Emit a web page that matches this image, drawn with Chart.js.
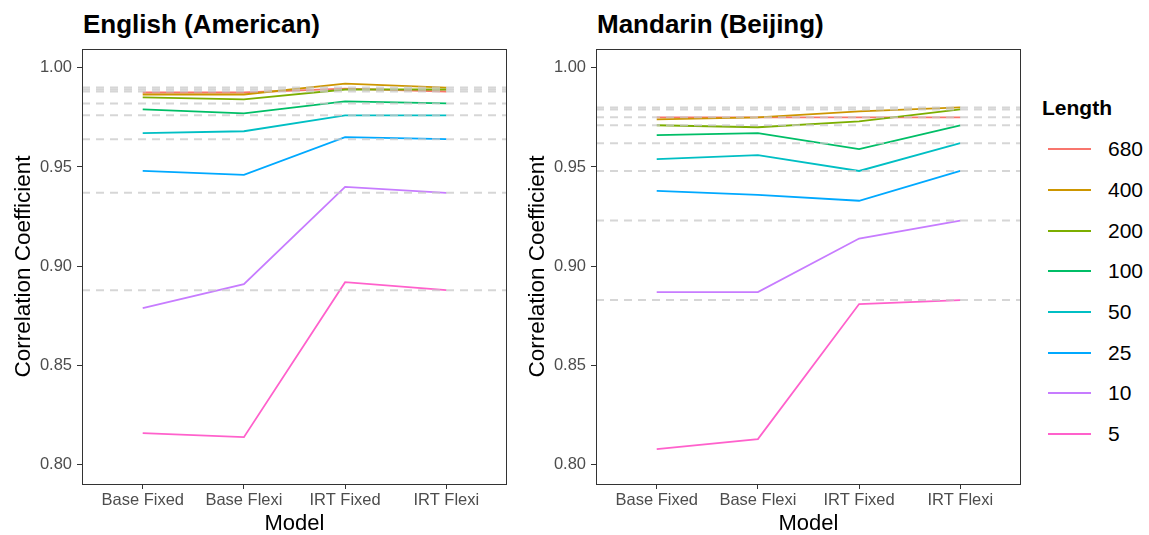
<!DOCTYPE html>
<html>
<head>
<meta charset="utf-8">
<script src="https://cdn.jsdelivr.net/npm/chart.js@4.4.1/dist/chart.umd.min.js"></script>
<style>
    body { margin: 0; width: 1149px; height: 535px; overflow: hidden; position: relative; background: #fff;
           font-family: "Liberation Sans", Arial, sans-serif; }
    canvas { position: absolute; top: 0; }
    .panelTitle { position: absolute; top: 9px; font-size: 26px; font-weight: bold; color: #000; white-space: nowrap; }
    #legend { position: absolute; left: 1042px; top: 96px; color: #000; }
    #legend .head { font-size: 21px; font-weight: bold; margin-bottom: 9px; }
    #legend .item { height: 40.7px; display: flex; align-items: center; font-size: 21px; }
    #legend .key { width: 43px; height: 2px; margin-left: 6px; margin-right: 17px; }
</style>
</head>
<body>
<div class="panelTitle" style="left:83px">English (American)</div>
<div class="panelTitle" style="left:597px">Mandarin (Beijing)</div>
<canvas id="chartEn" width="510" height="535" style="left:0px"></canvas>
<canvas id="chartZh" width="510" height="535" style="left:514px"></canvas>
<div id="legend"></div>

<script>
// data
const models = ['Base Fixed', 'Base Flexi', 'IRT Fixed', 'IRT Flexi'];
const lengths = ['680', '400', '200', '100', '50', '25', '10', '5'];
const yTicks = [0.80, 0.85, 0.90, 0.95, 1.00];

// English (American)
const en680 = [0.9875, 0.9875, 0.9895, 0.988];
const en400 = [0.9865, 0.9865, 0.992, 0.990];
const en200 = [0.985, 0.984, 0.989, 0.989];
const en100 = [0.979, 0.977, 0.983, 0.982];
const en50 = [0.967, 0.968, 0.976, 0.976];
const en25 = [0.948, 0.946, 0.965, 0.964];
const en10 = [0.879, 0.891, 0.940, 0.937];
const en5 = [0.816, 0.814, 0.892, 0.888];

// Mandarin (Beijing)
const zh680 = [0.975, 0.975, 0.975, 0.975];
const zh400 = [0.974, 0.975, 0.978, 0.980];
const zh200 = [0.971, 0.970, 0.973, 0.979];
const zh100 = [0.966, 0.967, 0.959, 0.971];
const zh50 = [0.954, 0.956, 0.948, 0.962];
const zh25 = [0.938, 0.936, 0.933, 0.948];
const zh10 = [0.887, 0.887, 0.914, 0.923];
const zh5 = [0.808, 0.813, 0.881, 0.883];

// ggplot hue colours
const colors = ['#F8766D', '#CD9600', '#7CAE00', '#00BE67', '#00BFC4', '#00A9FF', '#C77CFF', '#FF61CC'];

const X_MIN = -0.6, X_MAX = 3.6;

// panel border
const borderPlugin = {
    id: 'panelBorder',
    afterDraw(chart) {
        const { ctx, chartArea: a } = chart;
        ctx.save();
        ctx.strokeStyle = '#333333';
        ctx.lineWidth = 1;
        ctx.strokeRect(a.left + 0.5, a.top + 0.5, a.right - a.left - 1, a.bottom - a.top);
        ctx.restore();
    }
};

function createPanel(canvasId, seriesList) {
    const canvas = document.getElementById(canvasId);
    const ctx = canvas.getContext('2d');

    const datasets = [];
    seriesList.forEach((vals, i) => {
        datasets.push({
            label: lengths[i],
            data: models.map((m, j) => ({ x: j, y: vals[j] })),
            borderColor: colors[i],
            borderWidth: 1.8,
            pointRadius: 0,
            fill: false,
            tension: 0,
            order: 10 + (seriesList.length - i)
        });
    });
    // dashed reference line at each IRT Flexi value
    seriesList.forEach((vals, i) => {
        const last = vals[vals.length - 1];
        datasets.push({
            label: 'ref ' + lengths[i],
            data: [{ x: X_MIN, y: last }, { x: X_MAX, y: last }],
            borderColor: 'rgba(200,200,200,0.75)',
            borderWidth: 2,
            borderDash: [8, 6],
            pointRadius: 0,
            fill: false,
            order: 0
        });
    });

    return new Chart(ctx, {
        type: 'line',
        data: { datasets: datasets },
        plugins: [borderPlugin],
        options: {
            responsive: false,
            animation: false,
            layout: { padding: { top: 49, right: 3, left: 0, bottom: 0 } },
            plugins: {
                legend: { display: false },
                tooltip: { enabled: false }
            },
            scales: {
                x: {
                    type: 'linear',
                    min: X_MIN,
                    max: X_MAX,
                    afterBuildTicks: s => { s.ticks = models.map((m, j) => ({ value: j })); },
                    afterFit: s => { s.height = 51; },
                    grid: { drawOnChartArea: false, tickLength: 5, tickColor: '#333333', tickWidth: 1 },
                    border: { display: false },
                    ticks: {
                        padding: 2,
                        color: '#4D4D4D',
                        font: { family: 'Liberation Sans', size: 16.5 },
                        maxRotation: 0,
                        callback: v => models[v]
                    },
                    title: {
                        display: true,
                        text: 'Model',
                        color: '#000',
                        font: { family: 'Liberation Sans', size: 22, lineHeight: 1 },
                        padding: { top: 0, bottom: 0 }
                    }
                },
                y: {
                    min: 0.7904,
                    max: 1.0094,
                    afterBuildTicks: s => { s.ticks = yTicks.map(v => ({ value: v })); },
                    afterFit: s => { s.width = 82; },
                    grid: { drawOnChartArea: false, tickLength: 5, tickColor: '#333333', tickWidth: 1 },
                    border: { display: false },
                    ticks: {
                        padding: 5,
                        color: '#4D4D4D',
                        font: { family: 'Liberation Sans', size: 16.5 },
                        callback: v => v.toFixed(2)
                    },
                    title: {
                        display: true,
                        text: 'Correlation Coefficient',
                        color: '#000',
                        font: { family: 'Liberation Sans', size: 22.5 },
                        padding: { top: 10, bottom: 0 }
                    }
                }
            }
        }
    });
}

function buildLegend() {
    const box = document.getElementById('legend');
    let html = '<div class="head">Length</div>';
    lengths.forEach((len, i) => {
        html += '<div class="item"><span class="key" style="background:' + colors[i] + '"></span>' + len + '</div>';
    });
    box.innerHTML = html;
}

try {
    createPanel('chartEn', [en680, en400, en200, en100, en50, en25, en10, en5]);
    createPanel('chartZh', [zh680, zh400, zh200, zh100, zh50, zh25, zh10, zh5]);
    buildLegend();
} catch (error) {
    console.error('chart failed:', error);
}
</script>
</body>
</html>
